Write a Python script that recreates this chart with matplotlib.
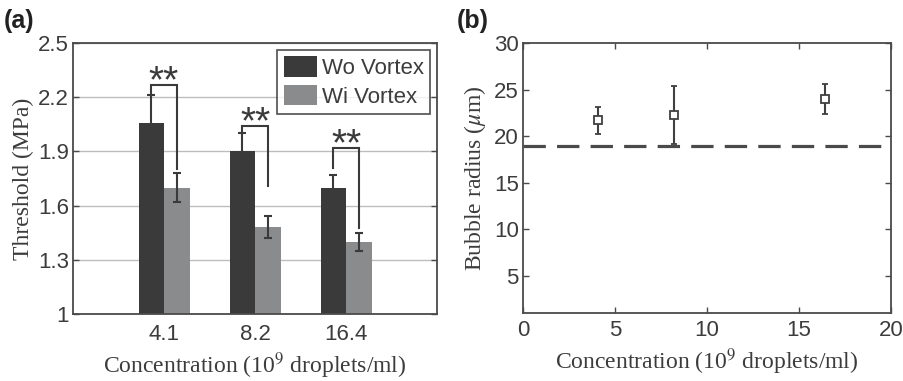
import matplotlib
matplotlib.use("Agg")
import matplotlib.pyplot as plt
import numpy as np

# ---- data ----
categories = ["4.1", "8.2", "16.4"]
wo_vortex = [2.06, 1.90, 1.70]
wo_err = [0.15, 0.10, 0.07]
wi_vortex = [1.70, 1.48, 1.40]
wi_err = [0.08, 0.06, 0.05]
legend_labels = ["Wo Vortex", "Wi Vortex"]
# significance brackets: (bracket height, left leg bottom, right leg bottom)
bracket_top = [2.27, 2.04, 1.92]
bracket_left = [2.21, 2.00, 1.81]
bracket_right = [1.80, 1.71, 1.475]
sig_text = "**"

conc = [4.1, 8.2, 16.4]
radius = [21.7, 22.3, 24.0]
radius_err = [1.5, 3.15, 1.6]
ref_radius = 19.0

a_yticks = [1, 1.3, 1.6, 1.9, 2.2, 2.5]
a_yticklabels = ["1", "1.3", "1.6", "1.9", "2.2", "2.5"]
b_xticks = [0, 5, 10, 15, 20]
b_yticks = [5, 10, 15, 20, 25, 30]

# ---- style ----
plt.rcParams["mathtext.fontset"] = "stix"
DARK = "#3a3a3a"
LIGHT = "#8a8b8d"
TXT = "#3c3c3c"
SPINE = "#4a4a4a"
sans = ["Liberation Sans", "DejaVu Sans"]
serif = ["Liberation Serif", "DejaVu Serif"]
TICK_FS = 16
LAB_FS = 17

fig = plt.figure(figsize=(9.04, 3.81), dpi=100)
axa = fig.add_axes([0.0808, 0.176, 0.4027, 0.711])
axb = fig.add_axes([0.5785, 0.1777, 0.407, 0.709])

def style_axes(ax):
    for s in ax.spines.values():
        s.set_color(SPINE)
        s.set_linewidth(1.3)
    ax.tick_params(direction="in", top=True, right=True, length=4,
                   width=1.0, color=SPINE, labelsize=TICK_FS, labelcolor=TXT, pad=3)
    for lab in ax.get_xticklabels() + ax.get_yticklabels():
        lab.set_family(sans)

# ---- panel (a) ----
x = np.arange(1, len(categories) + 1)
bw = 0.28
axa.set_axisbelow(True)
axa.yaxis.grid(True, color="#bdbdbd", linewidth=1.0)
axa.bar(x - bw / 2, [v - 1 for v in wo_vortex], bw, bottom=1, color=DARK,
        label=legend_labels[0], zorder=2)
axa.bar(x + bw / 2, [v - 1 for v in wi_vortex], bw, bottom=1, color=LIGHT,
        label=legend_labels[1], zorder=2)
axa.errorbar(x - bw / 2, wo_vortex, yerr=wo_err, fmt="none", ecolor=DARK,
             elinewidth=1.5, capsize=3, capthick=1.5, zorder=3)
axa.errorbar(x + bw / 2, wi_vortex, yerr=wi_err, fmt="none", ecolor=DARK,
             elinewidth=1.5, capsize=3, capthick=1.5, zorder=3)
for i in range(len(categories)):
    xl, xr = x[i] - bw / 2, x[i] + bw / 2
    axa.plot([xl, xl, xr, xr],
             [bracket_left[i], bracket_top[i], bracket_top[i], bracket_right[i]],
             color=DARK, lw=1.5, zorder=4, solid_joinstyle="miter")
    axa.text(x[i], bracket_top[i] - 0.085, sig_text, ha="center", va="bottom",
             fontsize=28, color=DARK, family=sans, zorder=4)
axa.set_xlim(0, 4)
axa.set_ylim(1, 2.5)
axa.set_xticks(x)
axa.set_xticklabels(categories)
axa.set_yticks(a_yticks)
axa.set_yticklabels(a_yticklabels)
style_axes(axa)
axa.tick_params(axis="x", length=0, pad=7)
axa.set_ylabel("Threshold (MPa)", family=serif, fontsize=LAB_FS, color=TXT, labelpad=3)
axa.set_xlabel("Concentration (10$^9$ droplets/ml)", family=serif, fontsize=LAB_FS,
               color=TXT, labelpad=4)
leg = axa.legend(loc="upper right", frameon=True, fancybox=False,
                 handlelength=1.5, handleheight=1.05, borderaxespad=0.3,
                 handletextpad=0.2, borderpad=0.3, labelspacing=0.25,
                 prop={"family": sans, "size": 16})
leg.get_frame().set_edgecolor("#222222")
leg.get_frame().set_linewidth(1.2)
for t in leg.get_texts():
    t.set_color(TXT)

# ---- panel (b) ----
axb.axhline(ref_radius, color="#4a4a4a", lw=2.3, dashes=(7, 3.5), zorder=2)
axb.errorbar(conc, radius, yerr=radius_err, fmt="s", color="#404040",
             mfc="white", mec="#404040", ms=5.5, mew=1.3, elinewidth=1.5,
             capsize=2.5, capthick=1.3, zorder=3)
axb.set_xlim(0, 20)
axb.set_ylim(1, 30)
axb.set_xticks(b_xticks)
axb.set_yticks(b_yticks)
style_axes(axb)
axb.tick_params(axis="x", pad=5)
axb.set_ylabel(r"Bubble radius ($\mu$m)", family=serif, fontsize=LAB_FS, color=TXT,
               labelpad=4)
axb.set_xlabel("Concentration (10$^9$ droplets/ml)", family=serif, fontsize=LAB_FS,
               color=TXT, labelpad=4)

fig.text(0.004, 0.945, "(a)", fontsize=18, fontweight="bold", family=sans,
         color="#222222", va="center", ha="left")
fig.text(0.505, 0.945, "(b)", fontsize=18, fontweight="bold", family=sans,
         color="#222222", va="center", ha="left")

fig.savefig("out.png", dpi=100)
